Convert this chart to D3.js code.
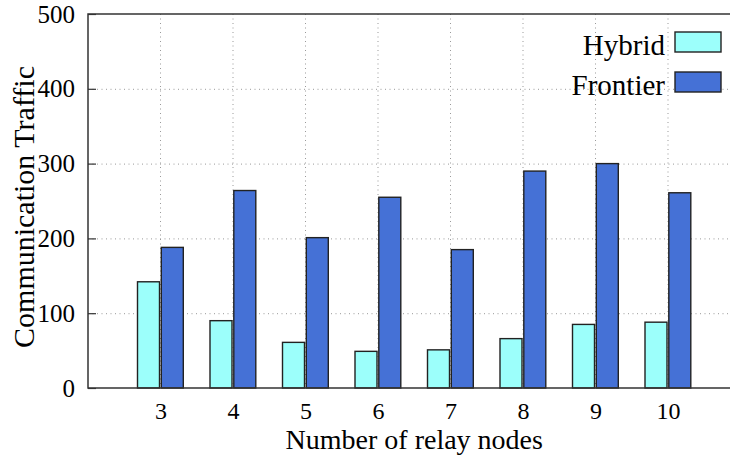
<!DOCTYPE html>
<html>
<head>
<meta charset="utf-8">
<script src="https://cdn.jsdelivr.net/npm/d3@7"></script>
<style>
  body { margin: 0; background: #fff; }
  text { font-family: "Liberation Serif", "Times New Roman", serif; fill: #000; }
</style>
</head>
<body>
<svg id="chart" width="730" height="459"></svg>
<script>
var Categories = [3, 4, 5, 6, 7, 8, 9, 10];
var Hybrid   = [142, 90, 61, 49, 51, 66, 85, 88];
var Frontier = [188, 264, 201, 255, 185, 290, 300, 261];
var SeriesNames = ["Hybrid", "Frontier"];
var SeriesColors = ["#9CFFFB", "#4571D6"];
var YTicks = [0, 100, 200, 300, 400, 500];

var svg = d3.select("#chart");

var PlotLeft = 88, PlotTop = 14, PlotBottom = 388;

// x runs from 2 to 11, the right end falls outside the picture
var x = d3.scaleLinear().domain([2, 11]).range([PlotLeft, PlotLeft + 9 * 72.5]);
var y = d3.scaleLinear().domain([0, 500]).range([PlotBottom, PlotTop]);

var PlotRight = x(11);

// grid
var grid = svg.append("g")
	.attr("stroke", "#999")
	.attr("stroke-width", 1)
	.attr("stroke-dasharray", "1,3.5");

grid.selectAll("line.h")
	.data(YTicks.slice(1, -1))
	.enter().append("line")
	.attr("class", "h")
	.attr("x1", PlotLeft).attr("x2", PlotRight)
	.attr("y1", function(d) { return y(d) + 0.5; })
	.attr("y2", function(d) { return y(d) + 0.5; });

grid.selectAll("line.v")
	.data(Categories)
	.enter().append("line")
	.attr("class", "v")
	.attr("x1", function(d) { return x(d); })
	.attr("x2", function(d) { return x(d); })
	.attr("y1", PlotTop).attr("y2", PlotBottom);

// bars
var series = [Hybrid, Frontier];
var offsets = [-23, 0.8];
var barW = 22;

series.forEach(function(values, s)
{
	svg.append("g").selectAll("rect")
		.data(values)
		.enter().append("rect")
		.attr("x", function(d, i) { return x(Categories[i]) + offsets[s]; })
		.attr("y", function(d) { return y(d); })
		.attr("width", barW)
		.attr("height", function(d) { return PlotBottom - y(d); })
		.attr("fill", SeriesColors[s])
		.attr("stroke", "#222")
		.attr("stroke-width", 1.4);
});

// frame
svg.append("path")
	.attr("d", "M" + PlotRight + "," + PlotTop + " H" + PlotLeft + " V" + PlotBottom + " H" + PlotRight)
	.attr("fill", "none")
	.attr("stroke", "#333")
	.attr("stroke-width", 1.5);

// y axis
var yAxis = d3.axisLeft(y)
	.tickValues(YTicks)
	.tickSize(-8)
	.tickPadding(13);

svg.append("g")
	.attr("transform", "translate(" + PlotLeft + ",0)")
	.call(yAxis)
	.call(function(g)
		{
			g.select(".domain").remove();
			g.selectAll(".tick line").attr("stroke", "#333").attr("stroke-width", 1.2);
			g.selectAll(".tick text")
				.attr("font-size", 25)
				.attr("font-family", "Liberation Serif, serif")
				.attr("fill", "#000");
		});

// x axis
var xAxis = d3.axisBottom(x)
	.tickValues(Categories)
	.tickSize(0)
	.tickPadding(14);

svg.append("g")
	.attr("transform", "translate(0," + PlotBottom + ")")
	.call(xAxis)
	.call(function(g)
		{
			g.select(".domain").remove();
			g.selectAll(".tick text")
				.attr("font-size", 24)
				.attr("font-family", "Liberation Serif, serif")
				.attr("fill", "#000");
		});

// titles
svg.append("text")
	.attr("x", x(6.5))
	.attr("y", 449)
	.attr("text-anchor", "middle")
	.attr("font-size", 28)
	.text("Number of relay nodes");

svg.append("text")
	.attr("transform", "translate(34,207) rotate(-90)")
	.attr("text-anchor", "middle")
	.attr("font-size", 30)
	.text("Communication Traffic");

// legend
var legend = svg.append("g").selectAll("g")
	.data(SeriesNames)
	.enter().append("g")
	.attr("transform", function(d, i) { return "translate(0," + (i * 40) + ")"; });

legend.append("text")
	.attr("x", 665)
	.attr("y", 55)
	.attr("text-anchor", "end")
	.attr("font-size", 29)
	.text(function(d) { return d; });

legend.append("rect")
	.attr("x", 675)
	.attr("y", 32)
	.attr("width", 46)
	.attr("height", 20)
	.attr("fill", function(d, i) { return SeriesColors[i]; })
	.attr("stroke", "#222")
	.attr("stroke-width", 1.4);
</script>
</body>
</html>
